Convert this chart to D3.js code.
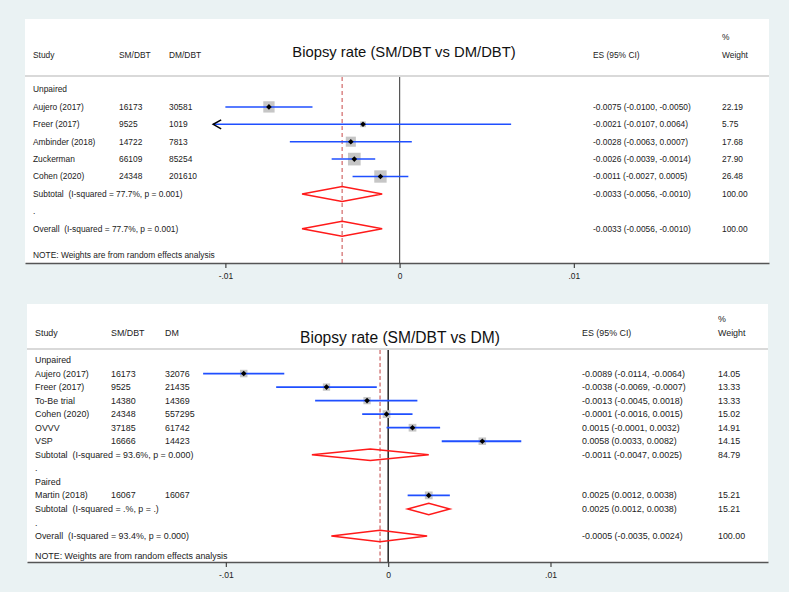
<!DOCTYPE html>
<html><head><meta charset="utf-8">
<script src="https://cdn.jsdelivr.net/npm/d3@7"></script>
<style>
html,body{margin:0;padding:0;background:#eaf2f3;}
svg{display:block;font-family:"Liberation Sans",Arial,Helvetica,sans-serif;}
svg text{white-space:pre;}
</style></head>
<body>
<script>
// ---------- Panel A: SM/DBT vs DM/DBT ----------
const studiesA = ["Aujero (2017)", "Freer (2017)", "Ambinder (2018)", "Zuckerman", "Cohen (2020)"];
const smA = ["16173", "9525", "14722", "66109", "24348"];
const dmA = ["30581", "1019", "7813", "85254", "201610"];
const esA = [-0.0075, -0.0021, -0.0028, -0.0026, -0.0011];
const loA = [-0.0100, -0.0107, -0.0063, -0.0039, -0.0027];
const hiA = [-0.0050, 0.0064, 0.0007, -0.0014, 0.0005];
const wA = [22.19, 5.75, 17.68, 27.90, 26.48];
const arrowA = [false, true, false, false, false];
const subA = {label: "Subtotal  (I-squared = 77.7%, p = 0.001)", es: -0.0033, lo: -0.0056, hi: -0.0010, w: 100.00};
const overallA = {label: "Overall  (I-squared = 77.7%, p = 0.001)", es: -0.0033, lo: -0.0056, hi: -0.0010, w: 100.00};

// ---------- Panel B: SM/DBT vs DM ----------
const studiesB1 = ["Aujero (2017)", "Freer (2017)", "To-Be trial", "Cohen (2020)", "OVVV", "VSP"];
const smB1 = ["16173", "9525", "14380", "24348", "37185", "16666"];
const dmB1 = ["32076", "21435", "14369", "557295", "61742", "14423"];
const esB1 = [-0.0089, -0.0038, -0.0013, -0.0001, 0.0015, 0.0058];
const loB1 = [-0.0114, -0.0069, -0.0045, -0.0016, -0.0001, 0.0033];
const hiB1 = [-0.0064, -0.0007, 0.0018, 0.0015, 0.0032, 0.0082];
const wB1 = [14.05, 13.33, 13.33, 15.02, 14.91, 14.15];
const subB1 = {label: "Subtotal  (I-squared = 93.6%, p = 0.000)", es: -0.0011, lo: -0.0047, hi: 0.0025, w: 84.79};
const studiesB2 = ["Martin (2018)"];
const smB2 = ["16067"];
const dmB2 = ["16067"];
const esB2 = [0.0025];
const loB2 = [0.0012];
const hiB2 = [0.0038];
const wB2 = [15.21];
const subB2 = {label: "Subtotal  (I-squared = .%, p = .)", es: 0.0025, lo: 0.0012, hi: 0.0038, w: 15.21};
const overallB = {label: "Overall  (I-squared = 93.4%, p = 0.000)", es: -0.0005, lo: -0.0035, hi: 0.0024, w: 100.00};

const tickVals = [-0.01, 0, 0.01];
const tickLabels = ["-.01", "0", ".01"];

const W = 789, H = 592;
const svg = d3.select("body").append("svg").attr("width", W).attr("height", H);

function fmt(v){ return d3.format(".4f")(v).replace("\u2212", "-"); }
function esText(r){ return fmt(r.es) + " (" + fmt(r.lo) + ", " + fmt(r.hi) + ")"; }

function panel(cfg){
  const g = svg.append("g");
  const x = d3.scaleLinear().domain(cfg.domain).range([cfg.left, cfg.right]);
  const y = d3.scaleLinear().domain([0, cfg.nRows - 1]).range([cfg.y0, cfg.yN]);
  const fs = cfg.fs;
  const txt = "#222";

  g.append("rect").attr("x", cfg.left).attr("y", cfg.top)
    .attr("width", cfg.right - cfg.left).attr("height", cfg.axisY - cfg.top).attr("fill", "#fff");

  // header
  const hdr = g.append("g").attr("font-size", fs).attr("fill", txt);
  hdr.append("text").attr("x", cfg.colStudy).attr("y", cfg.hdrY).attr("dy", "0.35em").text("Study");
  hdr.append("text").attr("x", cfg.colSM).attr("y", cfg.hdrY).attr("dy", "0.35em").text(cfg.smHead);
  hdr.append("text").attr("x", cfg.colDM).attr("y", cfg.hdrY).attr("dy", "0.35em").text(cfg.dmHead);
  hdr.append("text").attr("x", cfg.colES).attr("y", cfg.hdrY).attr("dy", "0.35em").text("ES (95% CI)");
  hdr.append("text").attr("x", cfg.colW).attr("y", cfg.pctY).attr("dy", "0.35em").text("%");
  hdr.append("text").attr("x", cfg.colW).attr("y", cfg.hdrY).attr("dy", "0.35em").text("Weight");
  g.append("text").attr("x", cfg.titleX).attr("y", cfg.titleY).attr("dy", "0.35em")
    .attr("text-anchor", "middle").attr("font-size", cfg.titleFs).attr("fill", "#111").text(cfg.title);

  g.append("line").attr("x1", cfg.left).attr("x2", cfg.right).attr("y1", cfg.sepY).attr("y2", cfg.sepY)
    .attr("stroke", "#d9d9d9").attr("stroke-width", 2);

  // reference lines
  g.append("line").attr("x1", x(0)).attr("x2", x(0)).attr("y1", cfg.sepY + 1).attr("y2", cfg.axisY)
    .attr("stroke", cfg.zeroColor).attr("stroke-width", cfg.zeroW);
  g.append("line").attr("x1", x(cfg.overallES)).attr("x2", x(cfg.overallES)).attr("y1", cfg.sepY + 1).attr("y2", cfg.axisY)
    .attr("stroke", cfg.dashColor).attr("stroke-width", cfg.dashW).attr("stroke-dasharray", cfg.dash);

  cfg.rows.forEach((r, i) => {
    const yy = y(i);
    const t = g.append("g").attr("font-size", fs).attr("fill", txt);
    t.append("text").attr("x", cfg.colStudy).attr("y", yy).attr("dy", "0.35em").text(r.label);
    if (r.type === "study") {
      t.append("text").attr("x", cfg.colSM).attr("y", yy).attr("dy", "0.35em").text(r.sm);
      t.append("text").attr("x", cfg.colDM).attr("y", yy).attr("dy", "0.35em").text(r.dm);
    }
    if (r.type === "study" || r.type === "sum") {
      t.append("text").attr("x", cfg.colES).attr("y", yy).attr("dy", "0.35em").text(esText(r));
      t.append("text").attr("x", cfg.colW).attr("y", yy).attr("dy", "0.35em").text(d3.format(".2f")(r.w));
    }
    if (r.type === "study") {
      const s = cfg.sqK * Math.sqrt(r.w);
      g.append("rect").attr("x", x(r.es) - s / 2).attr("y", yy - s / 2).attr("width", s).attr("height", s).attr("fill", "#c6c6c6");
      g.append("line").attr("x1", x(r.lo)).attr("x2", x(r.hi)).attr("y1", yy).attr("y2", yy)
        .attr("stroke", "#1f4fff").attr("stroke-width", cfg.ciW);
      if (r.arrow) {
        const ax = x(r.lo);
        g.append("path").attr("d", `M${ax + 8},${yy - 4.5}L${ax},${yy}L${ax + 8},${yy + 4.5}`)
          .attr("fill", "none").attr("stroke", "#000").attr("stroke-width", 1.5);
      }
      const d = 2.8;
      g.append("path").attr("d", `M${x(r.es)},${yy - d}L${x(r.es) + d},${yy}L${x(r.es)},${yy + d}L${x(r.es) - d},${yy}Z`).attr("fill", "#000");
    }
    if (r.type === "sum") {
      const h = cfg.diaH / 2;
      g.append("path").attr("d", `M${x(r.lo)},${yy}L${x(r.es)},${yy - h}L${x(r.hi)},${yy}L${x(r.es)},${yy + h}Z`)
        .attr("fill", "none").attr("stroke", "#ff1a1a").attr("stroke-width", 1.5);
    }
  });

  g.append("text").attr("x", cfg.colStudy).attr("y", cfg.noteY).attr("dy", "0.35em").attr("font-size", fs).attr("fill", txt)
    .text("NOTE: Weights are from random effects analysis");

  // axis
  const ax = d3.axisBottom(x).tickValues(tickVals).tickFormat((d, i) => tickLabels[i]).tickSize(5).tickPadding(5).tickSizeOuter(0);
  const axG = g.append("g").attr("transform", `translate(0,${cfg.axisY})`).call(ax);
  axG.select(".domain").attr("stroke", "#555").attr("stroke-width", 1.5);
  axG.selectAll(".tick line").attr("stroke", "#444").attr("stroke-width", 1.2);
  axG.selectAll(".tick text").attr("font-size", cfg.tickFs).attr("fill", "#222").attr("font-family", "Liberation Sans, Arial, sans-serif");
}

function studyRows(names, sm, dm, es, lo, hi, w, arrows){
  return names.map((n, i) => ({type: "study", label: n, sm: sm[i], dm: dm[i], es: es[i], lo: lo[i], hi: hi[i], w: w[i], arrow: arrows ? arrows[i] : false}));
}

const rowsA = [{type: "label", label: "Unpaired"}]
  .concat(studyRows(studiesA, smA, dmA, esA, loA, hiA, wA, arrowA))
  .concat([Object.assign({type: "sum"}, subA), {type: "label", label: "."}, Object.assign({type: "sum"}, overallA)]);

panel({
  left: 25, right: 769, top: 19, axisY: 263, domain: [-0.0215, 0.0212],
  nRows: rowsA.length, y0: 89.5, yN: 228.7, rows: rowsA,
  fs: 8.4, tickFs: 8.4, hdrY: 55, pctY: 37, sepY: 76, noteY: 255.3,
  colStudy: 33, colSM: 119, colDM: 169, colES: 593, colW: 722,
  smHead: "SM/DBT", dmHead: "DM/DBT",
  title: "Biopsy rate (SM/DBT vs DM/DBT)", titleX: 404, titleY: 52, titleFs: 14.8,
  zeroColor: "#555", zeroW: 1.2, dashColor: "#c84848", dashW: 1, dash: "4,3",
  overallES: overallA.es, sqK: 2.4, ciW: 1.5, diaH: 15
});

const rowsB = [{type: "label", label: "Unpaired"}]
  .concat(studyRows(studiesB1, smB1, dmB1, esB1, loB1, hiB1, wB1))
  .concat([Object.assign({type: "sum"}, subB1), {type: "label", label: "."}, {type: "label", label: "Paired"}])
  .concat(studyRows(studiesB2, smB2, dmB2, esB2, loB2, hiB2, wB2))
  .concat([Object.assign({type: "sum"}, subB2), {type: "label", label: "."}, Object.assign({type: "sum"}, overallB)]);

panel({
  left: 27, right: 768, top: 304, axisY: 562, domain: [-0.02225, 0.0234],
  nRows: rowsB.length, y0: 360, yN: 536, rows: rowsB,
  fs: 8.9, tickFs: 8.6, hdrY: 332.7, pctY: 319.3, sepY: 349, noteY: 556,
  colStudy: 35, colSM: 111, colDM: 165, colES: 582, colW: 718,
  smHead: "SM/DBT", dmHead: "DM",
  title: "Biopsy rate (SM/DBT vs DM)", titleX: 400, titleY: 337.3, titleFs: 15.6,
  zeroColor: "#000", zeroW: 1.3, dashColor: "#d98a8a", dashW: 1.6, dash: "4,2.5",
  overallES: overallB.es, sqK: 2.0, ciW: 1.8, diaH: 11.5
});
</script>
</body></html>
